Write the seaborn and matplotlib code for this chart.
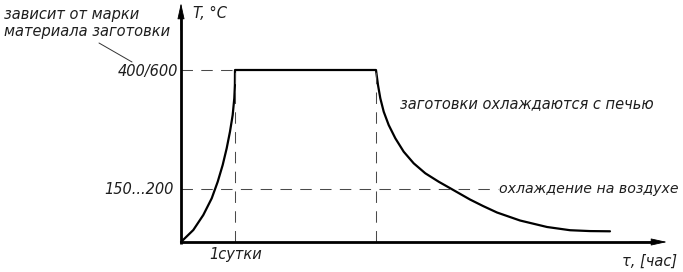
import matplotlib
matplotlib.use("Agg")
import matplotlib.pyplot as plt
import seaborn as sns
import pandas as pd

# ---- data (schematic: time in days, temperature in schematic °C units) ----
heat_t = [0, 0.228, 0.413, 0.569, 0.680, 0.772, 0.846, 0.907, 0.957, 0.987, 0.998, 1.0]
heat_T = [0, 27.9, 62.8, 101.6, 140.2, 179.1, 217.9, 256.5, 295.3, 334.2, 365.1, 400]
hold_t = [1.0, 3.611]
hold_T = [400, 400]
cool_t = [3.611, 3.648, 3.691, 3.754, 3.846, 3.969, 4.124, 4.309, 4.524, 4.772,
          4.987, 5.352, 5.593, 5.852, 6.278, 6.778, 7.204, 7.574, 7.944]
cool_T = [400, 365.1, 334.2, 303.0, 272.1, 241.2, 210.0, 183.0, 159.8, 140.2,
          124.9, 98.8, 83.7, 68.6, 50.0, 34.9, 27.4, 25.4, 24.9]

T_hold = 400          # level "400/600"
T_air = 124.0         # level "150...200"
t_day = 1.0           # "1сутки"
t_hold_end = 3.611

label_T_hold = "400/600"
label_T_air = "150...200"
label_day = "1сутки"
y_label = "T, °C"
x_label = "τ, [час]"
note_grade = "зависит от марки\nматериала заготовки"
note_furnace = "заготовки охлаждаются с печью"
note_air = "охлаждение на воздухе"

sns.set_style("white")
plt.rcParams["font.family"] = ["DejaVu Sans"]

# pixel <-> data mapping helper (layout only)
X0, Y0, SX, SY = 181, 242, 54.0, 0.43
def P(px, py):
    return ((px - X0) / SX, (Y0 - py) / SY)

fig = plt.figure(figsize=(6.83, 2.72), dpi=100)
ax = fig.add_axes([0, 0, 1, 1])
ax.set_xlim(P(0, 0)[0], P(683, 0)[0])
ax.set_ylim(P(0, 272)[1], P(0, 0)[1])
ax.axis("off")

curve = pd.concat([
    pd.DataFrame({"t": heat_t, "T": heat_T}),
    pd.DataFrame({"t": hold_t, "T": hold_T}),
    pd.DataFrame({"t": cool_t, "T": cool_T}),
], ignore_index=True)
sns.lineplot(data=curve, x="t", y="T", sort=False, estimator=None,
             color="black", linewidth=1.6, ax=ax, solid_joinstyle="round",
             solid_capstyle="round")

dash_kw = dict(color="#4a4a4a", linewidth=0.75, dashes=(11, 8))
# horizontal guides
ax.plot([0, t_day], [T_hold, T_hold], **dash_kw)
ax.plot([0, P(498, 0)[0]], [T_air, T_air], **dash_kw)
# vertical guides
ax.plot([t_day, t_day], [0, T_hold], **dash_kw)
ax.plot([t_hold_end, t_hold_end], [0, T_hold], **dash_kw)

# axes: thick lines + slim filled arrowheads
axis_kw = dict(color="black", linewidth=2.0, solid_capstyle="butt")
ax.plot([P(181, 0)[0], P(181, 0)[0]], [P(0, 243.5)[1], P(0, 14)[1]], **axis_kw)
ax.plot([P(180, 0)[0], P(652, 0)[0]], [0, 0], **axis_kw)
head_kw = dict(arrowstyle="-|>,head_length=1.0,head_width=0.22",
               color="black", lw=0.6, mutation_scale=10,
               shrinkA=0, shrinkB=0)
ax.annotate("", xy=P(181, 3), xytext=P(181, 30), arrowprops=head_kw)
ax.annotate("", xy=P(667, 242), xytext=P(630, 242), arrowprops=head_kw)

tkw = dict(family="DejaVu Sans", style="oblique",
           color="#1e1e1e", fontsize=10.5)

ax.text(*P(193, 13), y_label, ha="left", va="center", **tkw)
ax.text(*P(650, 261), x_label, ha="center", va="center", **tkw)
ax.text(*P(178, 71), label_T_hold, ha="right", va="center", **tkw)
ax.text(*P(174, 189), label_T_air, ha="right", va="center", **tkw)
ax.text(*P(236, 255), label_day, ha="center", va="center", **tkw)
ax.text(*P(4, 23), note_grade, ha="left", va="center", linespacing=1.15, **tkw)
ax.text(*P(400, 104), note_furnace, ha="left", va="center", **tkw)
ax.text(*P(499, 189), note_air, ha="left", va="center",
        **{**tkw, "fontsize": 10.2})

# leader line from note to level label
ax.plot([P(99, 43)[0], P(132, 62)[0]], [P(99, 43)[1], P(132, 62)[1]],
        color="#333333", linewidth=0.7)

fig.savefig("out.png", dpi=100)
